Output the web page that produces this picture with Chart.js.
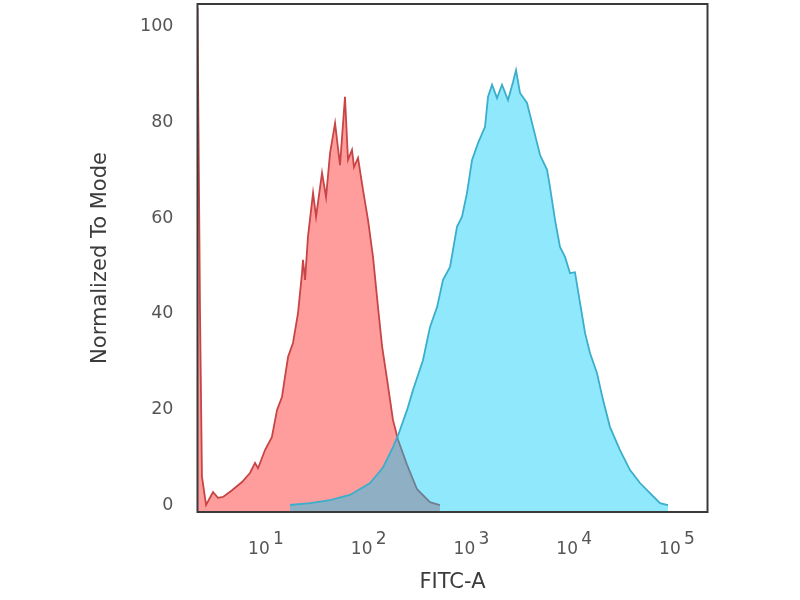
<!DOCTYPE html>
<html>
<head>
<meta charset="utf-8">
<script src="https://cdn.jsdelivr.net/npm/chart.js@4.4.0/dist/chart.umd.min.js"></script>
<style>
  body { margin: 0; background: #fff; }
</style>
</head>
<body>
<canvas id="chart" width="800" height="600"></canvas>
<script>
// control (red) histogram: FITC-A value / normalized count
const redX = [2.154, 2.28, 2.38, 2.61, 3.05, 3.41, 3.82, 4.67, 5.84, 6.98, 7.82, 8.36, 9.78, 11.4, 12.8, 14.3,
  15.3, 16.4, 18.3, 20.5, 22.4, 22.9, 24.0, 25.6, 28.7, 30.7, 35.1, 38.4, 42.0, 47.0, 52.5, 58.7,
  62.8, 68.7, 71.8, 78.6, 87.9, 98.4, 110, 123, 135, 151, 172, 193, 236, 295, 394, 493];
const redY = [104, 40, 6, 0, 2.7, 1.5, 1.7, 3.1, 4.8, 6.7, 8.8, 7.7, 11.5, 14.2, 19.9, 22.6,
  26.8, 31.0, 33.9, 40.2, 48.5, 51.3, 47.1, 56.1, 65.3, 60.3, 69.5, 64.4, 73.6, 79.9, 71.1, 85.4,
  72.2, 74.3, 70.7, 72.6, 65.9, 59.6, 51.9, 41.4, 33.1, 26.2, 17.8, 13.6, 8.4, 3.3, 0.6, 0];

// stained (blue) histogram
const blueX = [17.1, 26.8, 42.0, 65.7, 103, 138, 172, 193, 236, 270, 337, 394, 462, 528, 618, 722,
  808, 904, 1012, 1157, 1353, 1448, 1585, 1771, 1981, 2265, 2535, 2711, 2965, 3467, 3969, 4645,
  5433, 5808, 6501, 7262, 8128, 9099, 10160, 11380, 12730, 14220, 16630, 19050, 22280, 27860, 34910, 43650,
  54580, 68350, 81660];
const blueY = [0, 0.4, 1.0, 2.1, 4.6, 7.9, 12.1, 14.6, 19.9, 24.1, 30.3, 37.2, 41.4, 47.1, 49.8, 58.2,
  60.3, 65.3, 72.2, 75.7, 79.1, 85.4, 87.9, 85.1, 87.9, 84.7, 88.5, 91.0, 86.2, 84.1, 79.1, 73.2,
  70.1, 66.5, 59.6, 54.0, 51.9, 48.5, 48.7, 42.3, 36.0, 31.8, 27.6, 22.0, 16.3, 11.5, 7.3, 4.6,
  2.5, 0.4, 0];

const xTickValues = [10, 100, 1000, 10000, 100000];
const yTickValues = [0, 20, 40, 60, 80, 100];

const FONT = 'DejaVu Sans';
const FS = '\u2007'; // figure space, keeps the exponent right of "10"
const TS = '\u2009'; // thin gap between "10" and the exponent

const toPoints = (xs, ys) => xs.map((x, i) => ({ x, y: ys[i] }));

// white page + dark frame round the plot area
const framePlugin = {
  id: 'frame',
  beforeDraw(chart) {
    const ctx = chart.ctx;
    ctx.save();
    ctx.fillStyle = '#fff';
    ctx.fillRect(0, 0, chart.width, chart.height);
    ctx.restore();
  },
  afterDraw(chart) {
    const { ctx, chartArea: a } = chart;
    ctx.save();
    ctx.strokeStyle = '#3a3a3a';
    ctx.lineWidth = 2;
    ctx.strokeRect(a.left, a.top, a.right - a.left, a.bottom - a.top);
    ctx.restore();
  },
};

new Chart(document.getElementById('chart'), {
  type: 'line',
  data: {
    datasets: [
      {
        label: 'Stained',
        data: toPoints(blueX, blueY),
        borderColor: '#3aaecb',
        backgroundColor: 'rgba(0, 202, 249, 0.44)',
        borderWidth: 1.8,
        pointRadius: 0,
        tension: 0,
        fill: 'start',
      },
      {
        label: 'Control',
        data: toPoints(redX, redY),
        borderColor: '#c94444',
        backgroundColor: '#ff9c9c',
        borderWidth: 1.8,
        pointRadius: 0,
        tension: 0,
        fill: 'start',
      },
    ],
  },
  options: {
    responsive: false,
    animation: false,
    layout: { padding: { left: 83.5, right: 92.5, top: 4, bottom: 1 } },
    plugins: {
      legend: { display: false },
      tooltip: { enabled: false },
    },
    scales: {
      x: {
        type: 'logarithmic',
        min: 2.154,
        max: 198000,
        grid: { display: false, drawTicks: false },
        border: { display: false },
        afterBuildTicks: (s) => { s.ticks = xTickValues.map((v) => ({ value: v })); },
        afterFit: (s) => {
          s.height = 87;
          s.paddingLeft = 0;
          s.paddingRight = 0;
        },
        ticks: {
          autoSkip: false,
          maxRotation: 0,
          padding: 22,
          color: '#555',
          font: { family: FONT, size: 17, lineHeight: 0.62 },
          callback: (value) => [FS + FS + TS + Math.round(Math.log10(value)), '10' + FS + TS],
        },
        title: {
          display: true,
          text: 'FITC-A',
          color: '#3c3c3c',
          font: { family: FONT, size: 21 },
          padding: { top: 4, bottom: 4 },
        },
      },
      y: {
        min: -1.46,
        max: 104.8,
        grid: { display: false, drawTicks: false },
        border: { display: false },
        afterBuildTicks: (s) => { s.ticks = yTickValues.map((v) => ({ value: v })); },
        afterFit: (s) => {
          s.width = 114;
          s.paddingTop = 0;
          s.paddingBottom = 0;
        },
        ticks: {
          padding: 24,
          color: '#555',
          font: { family: FONT, size: 17.5 },
        },
        title: {
          display: true,
          text: 'Normalized To Mode',
          color: '#3c3c3c',
          font: { family: FONT, size: 21 },
          padding: { top: 4, bottom: 4 },
        },
      },
    },
  },
  plugins: [framePlugin],
});
</script>
</body>
</html>
